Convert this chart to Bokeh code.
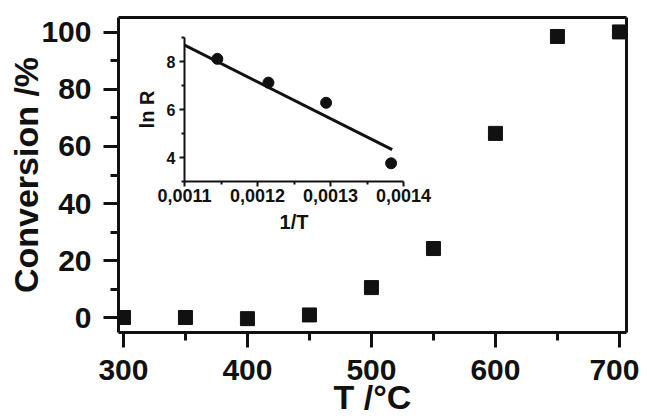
from bokeh.plotting import figure
from bokeh.models import (Range1d, SingleIntervalTicker, FixedTicker, CustomJSTickFormatter,
                          LinearAxis)
from bokeh.embed import file_html
from bokeh.resources import INLINE

# Main data
temps = [300, 350, 400, 450, 500, 550, 600, 650, 700]
conversion = [0.0, 0.0, -0.4, 0.9, 10.5, 24.2, 64.6, 98.6, 100.2]

# Inset data (Arrhenius plot)
inv_t = [0.001145, 0.001215, 0.001294, 0.001383]
ln_r = [8.11, 7.12, 6.28, 3.76]
fit_x = [0.0011, 0.0013845]
fit_y = [8.68, 4.33]

inset_x_ticks = [0.0011, 0.0012, 0.0013, 0.0014]
inset_x_minor = [0.00115, 0.00125, 0.00135]
inset_y_ticks = [4, 6, 8]
inset_y_minor = [3, 5, 7, 9]

FONT = "Liberation Sans"
INK = "#111111"

p = figure(width=639, height=410, output_backend="svg", toolbar_location=None,
           x_range=Range1d(296.0, 705.7), y_range=Range1d(-5.26, 105.26),
           min_border_left=118, min_border_right=13, min_border_top=9, min_border_bottom=86,
           styles={"position": "absolute", "left": "0px", "top": "8px"})
p.background_fill_color = "white"
p.border_fill_color = "white"
p.outline_line_color = None
p.grid.visible = False

xb = p.below[0]
yl = p.left[0]

# box closing axes (top / right) without ticks
for side in ("above", "right"):
    ax = LinearAxis(ticker=FixedTicker(ticks=[]), axis_line_width=3, axis_line_color=INK,
                    major_tick_out=0, major_tick_in=0, minor_tick_out=0, minor_tick_in=0,
                    major_label_standoff=0)
    p.add_layout(ax, side)

xb.ticker = SingleIntervalTicker(interval=100, num_minor_ticks=2)
yl.ticker = SingleIntervalTicker(interval=20, num_minor_ticks=2)
for ax in (xb, yl):
    ax.axis_line_width = 3
    ax.axis_line_color = INK
    ax.major_tick_line_width = 3
    ax.minor_tick_line_width = 3
    ax.major_tick_line_color = INK
    ax.minor_tick_line_color = INK
    ax.major_tick_out = 15
    ax.major_tick_in = 0
    ax.minor_tick_out = 8
    ax.minor_tick_in = 0
    ax.major_label_text_font = FONT
    ax.major_label_text_font_style = "bold"
    ax.major_label_text_font_size = "30px"
    ax.major_label_text_color = INK
    ax.axis_label_text_font = FONT
    ax.axis_label_text_font_style = "bold"
    ax.axis_label_text_font_size = "34px"
    ax.axis_label_text_color = INK
    ax.axis_label_text_line_height = 0.8
xb.major_label_standoff = 12
yl.major_label_standoff = 12
xb.axis_label = "T /°C"
yl.axis_label = "Conversion /%"
xb.axis_label_standoff = -5
yl.axis_label_standoff = -7

p.scatter(temps, conversion, marker="square", size=14, color=INK)

# Inset
ins = figure(frame_width=219, frame_height=144, output_backend="svg", toolbar_location=None,
             x_range=Range1d(0.0011, 0.0014), y_range=Range1d(3, 9),
             min_border_left=54, min_border_right=30, min_border_top=7, min_border_bottom=50,
             styles={"position": "absolute", "left": "130px", "top": "30px"})
ins.background_fill_color = None
ins.border_fill_color = None
ins.outline_line_color = None
ins.grid.visible = False
ins.xaxis.ticker = FixedTicker(ticks=inset_x_ticks, minor_ticks=inset_x_minor)
ins.yaxis.ticker = FixedTicker(ticks=inset_y_ticks, minor_ticks=inset_y_minor)
ins.xaxis.formatter = CustomJSTickFormatter(code="return tick.toFixed(4).replace('.', ',');")
for ax in (ins.below[0], ins.left[0]):
    ax.axis_line_width = 2
    ax.axis_line_color = INK
    ax.major_tick_line_width = 2
    ax.minor_tick_line_width = 2
    ax.major_tick_line_color = INK
    ax.minor_tick_line_color = INK
    ax.major_tick_out = 5
    ax.major_tick_in = 0
    ax.minor_tick_out = 3
    ax.minor_tick_in = 0
    ax.major_label_text_font = FONT
    ax.major_label_text_font_style = "bold"
    ax.major_label_text_color = INK
    ax.axis_label_text_font = FONT
    ax.axis_label_text_font_style = "bold"
    ax.axis_label_text_font_size = "20px"
    ax.axis_label_text_color = INK
ins.xaxis.major_label_text_font_size = "18px"
ins.yaxis.major_label_text_font_size = "16px"
ins.xaxis.major_label_standoff = 2
ins.yaxis.major_label_standoff = 4
ins.xaxis.axis_label = "1/T"
ins.yaxis.axis_label = "ln R"
ins.xaxis.axis_label_standoff = 6
ins.yaxis.axis_label_standoff = 6

ins.line(fit_x, fit_y, line_width=3, color=INK)
ins.scatter(inv_t, ln_r, marker="circle", size=11, color=INK)

open("out.html", "w").write(file_html([p, ins], INLINE))
